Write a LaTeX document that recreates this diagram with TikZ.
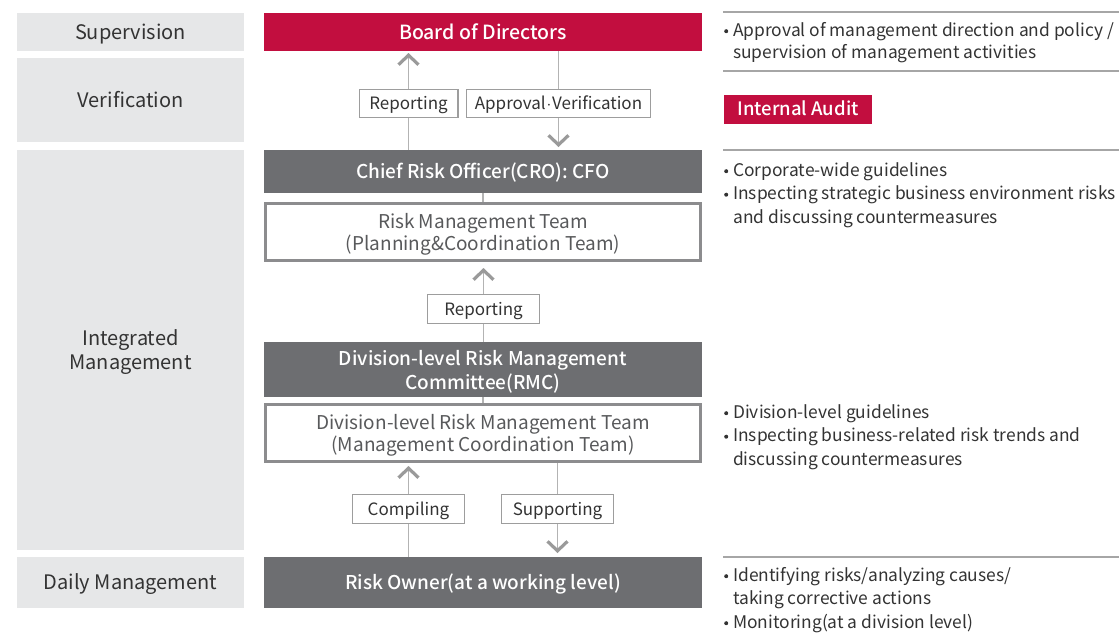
\documentclass[tikz,border=0pt]{standalone}
\usepackage{fontspec}
\setmainfont{Noto Sans CJK KR}
\newfontfamily\medfont{Noto Sans CJK KR Medium}
\usetikzlibrary{arrows.meta}
\definecolor{redA}{HTML}{C20E3F}
\definecolor{dgray}{HTML}{6D6E71}
\definecolor{lgray}{HTML}{E6E7E8}
\definecolor{txt}{HTML}{333333}
\definecolor{txtB}{HTML}{58595B}
\definecolor{bord}{HTML}{8C8C8E}
\definecolor{lbl}{HTML}{9D9D9D}
\definecolor{connc}{HTML}{B3B3B3}
\definecolor{chevc}{HTML}{9A9A9A}
\definecolor{rulec}{HTML}{A6A6A6}
\newcommand\bul{\makebox[9pt][l]{\tikz[baseline=-4.8pt]\fill[txt] (0,0) circle[radius=2pt];}}
\newcommand\ind{\hspace*{9pt}}
\begin{document}
\begin{tikzpicture}[x=1pt,y=-1pt,
  side/.style={fill=lgray, text=txt, font=\fontsize{20}{24}\selectfont, align=center,
    minimum width=227pt, inner sep=0pt, outer sep=0pt},
  one/.style={text height=17pt, text depth=3pt},
  two/.style={text depth=-2pt},
  dbox/.style={fill=dgray, text=white, font=\fontsize{19}{24}\medfont\selectfont, align=center,
    minimum width=438pt, inner sep=0pt, outer sep=0pt},
  redbox/.style={fill=redA, text=white, font=\fontsize{19.5}{24}\medfont\selectfont, align=center,
    minimum width=438pt, inner sep=0pt, outer sep=0pt},
  wbox/.style={draw=bord, line width=3pt, fill=white, text=txtB, font=\fontsize{19}{22.5}\selectfont,
    align=center, minimum width=435pt, inner sep=0pt},
  lab/.style={draw=lbl, line width=1.2pt, fill=white, text=txt, font=\fontsize{17}{20}\selectfont,
    inner sep=0pt, text height=15pt, text depth=3pt},
  conn/.style={draw=connc, line width=1.5pt},
  chevtip/.style={-{Straight Barb[length=9.5pt,width=20pt,line width=3.2pt,color=chevc]}},
  rulel/.style={draw=rulec, line width=1.3pt},
  desc/.style={text=txt, font=\fontsize{17.4}{23.5}\selectfont, align=left, inner sep=0pt, anchor=base west},
]
\useasboundingbox (0,0) rectangle (1119,633);
% left column
\node[side, one, minimum height=38pt] (sup) at (130.5,32) {Supervision};
\node[side, one, minimum height=84pt] (ver) at (130.5,100) {Verification};
\node[side, two, minimum height=400pt] (integ) at (130.5,350) {Integrated\\Management};
\node[side, one, minimum height=51pt] (daily) at (130.5,582.5) {Daily Management};
% center column
\node[redbox, one, minimum height=38pt] (board) at (483,32) {Board of Directors};
\node[dbox, one, minimum height=43pt] (cro) at (483,171.5) {Chief Risk Officer(CRO): CFO};
\node[wbox, two, minimum height=57pt] (rmt) at (483,232) {Risk Management Team\\(Planning\&Coordination Team)};
\node[dbox, two, minimum height=55pt] (rmc) at (483,369.5) {Division-level Risk Management\\Committee(RMC)};
\node[wbox, two, minimum height=57pt] (drmt) at (483,433) {Division-level Risk Management Team\\(Management Coordination Team)};
\node[dbox, one, minimum height=51pt] (owner) at (483,582.5) {Risk Owner(at a working level)};
% labels
\node[lab, minimum width=98.8pt, minimum height=27.8pt] (rep1) at (408.5,103.5) {Reporting};
\node[lab, minimum width=183.8pt, minimum height=27.8pt] (appr) at (558.5,103.5) {Approval\kern0.8pt$\cdot$\kern0.8pt Verification};
\node[lab, minimum width=111.8pt, minimum height=28.8pt] (rep2) at (483.5,309) {Reporting};
\node[lab, minimum width=111.8pt, minimum height=28.8pt] (comp) at (408.5,509) {Compiling};
\node[lab, minimum width=111.8pt, minimum height=28.8pt] (supp) at (557.5,509) {Supporting};
% connectors
\draw[conn] (cro.north -| rep1.south) -- (rep1.south);
\draw[conn, chevtip, shorten >=2pt] (rep1.north) -- (board.south -| rep1.north);
\draw[conn] (board.south -| appr.north) -- (appr.north);
\draw[conn, chevtip, shorten >=3pt] (appr.south) -- (cro.north -| appr.south);
\draw[conn] (cro.south) -- (rmt.north);
\draw[conn] (rmc.north -| rep2.south) -- (rep2.south);
\draw[conn, chevtip, shorten >=6pt] (rep2.north) -- (rmt.south -| rep2.north);
\draw[conn] (rmc.south) -- (drmt.north);
\draw[conn] (owner.north -| comp.south) -- (comp.south);
\draw[conn, chevtip, shorten >=3pt] (comp.north) -- (drmt.south -| comp.north);
\draw[conn] (drmt.south -| supp.north) -- (supp.north);
\draw[conn, chevtip, shorten >=4pt] (supp.south) -- (owner.north -| supp.south);
% right column
\coordinate (r1) at (723,12);
\coordinate (r2) at (723,71);
\coordinate (r3) at (723,150);
\coordinate (r4) at (723,557);
\draw[rulel] (r1) -- (1119,12);
\draw[rulel] (r2) -- (1119,71);
\draw[rulel] (r3) -- (1119,150);
\draw[rulel] (r4) -- (1119,557);
\node[desc, font=\fontsize{17.4}{22}\selectfont] (d1) at (724,58) {\bul Approval of management direction and policy /\\\ind supervision of management activities};
\node[fill=redA, text=white, font=\fontsize{18.5}{22}\medfont\selectfont, minimum width=148pt,
  minimum height=29pt, inner sep=0pt, text height=15.5pt, text depth=3pt] (audit) at (798,109.5) {Internal Audit};
\node[desc] (d2) at (724,223) {\bul Corporate-wide guidelines\\\bul Inspecting strategic business environment risks\\\ind and discussing countermeasures};
\node[desc] (d3) at (724,465) {\bul Division-level guidelines\\\bul Inspecting business-related risk trends and\\\ind discussing countermeasures};
\node[desc] (d4) at (724,628) {\bul Identifying risks/analyzing causes/\\\ind taking corrective actions\\\bul Monitoring(at a division level)};
\end{tikzpicture}
\end{document}
